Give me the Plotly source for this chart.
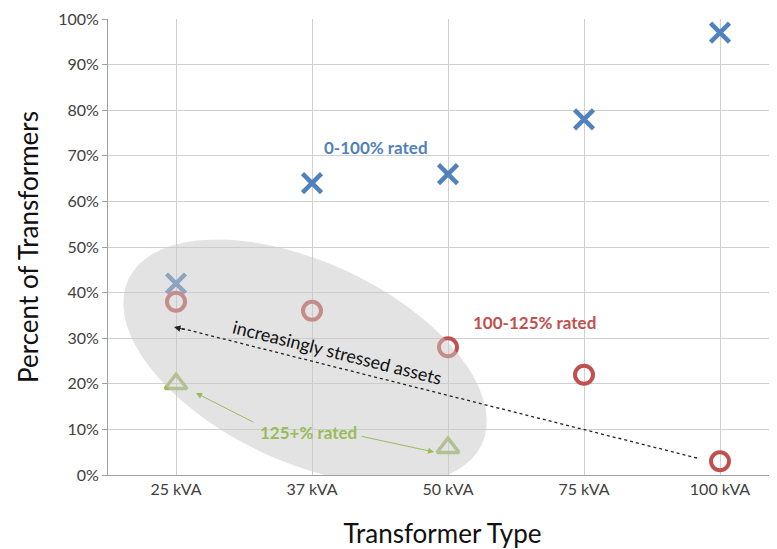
import math
import plotly.graph_objects as go

categories = ["25 kVA", "37 kVA", "50 kVA", "75 kVA", "100 kVA"]
rated_0_100 = [42, 64, 66, 78, 97]
rated_100_125 = [38, 36, 28, 22, 3]
rated_125_cats = ["25 kVA", "50 kVA"]
rated_125 = [20, 6]
y_ticks = [0, 10, 20, 30, 40, 50, 60, 70, 80, 90, 100]

BLUE = "#4f81bd"
RED = "#c0504d"
GREEN = "#9bbb59"
FONT = "Lato"

xi = {c: i for i, c in enumerate(categories)}

fig = go.Figure()
fig.add_trace(go.Scatter(
    x=[xi[c] for c in categories], y=rated_0_100, mode="markers",
    marker=dict(symbol="x-thin-open", size=19, color=BLUE, line=dict(color=BLUE, width=4.5)),
    name="0-100% rated"))
fig.add_trace(go.Scatter(
    x=[xi[c] for c in categories], y=rated_100_125, mode="markers",
    marker=dict(symbol="circle-open", size=18, color=RED, line=dict(color=RED, width=4)),
    name="100-125% rated"))
fig.add_trace(go.Scatter(
    x=[xi[c] for c in rated_125_cats], y=rated_125, mode="markers",
    marker=dict(symbol="triangle-up-open", size=19, color=GREEN, line=dict(color=GREEN, width=3.5)),
    name="125+% rated"))

# page pixel -> data helpers (index 0 at 176px, 136px per category; 0% at 475px, 4.56px per %)
def dx(px):
    return (px - 176) / 136.0

def dy(py):
    return (475 - py) / 4.56

# highlight ellipse (rotated), built in pixel space
cx, cy, a, b, th = 305, 362, 195, 100, math.radians(25)
pts = []
for k in range(73):
    t = 2 * math.pi * k / 72
    px = cx + a * math.cos(t) * math.cos(th) - b * math.sin(t) * math.sin(th)
    py = cy + a * math.cos(t) * math.sin(th) + b * math.sin(t) * math.cos(th)
    pts.append((dx(px), dy(py)))
path = "M " + " L ".join(f"{x:.4f},{y:.4f}" for x, y in pts) + " Z"
fig.add_shape(type="path", path=path, xref="x", yref="y", layer="above",
              fillcolor="rgba(200,200,200,0.5)", line=dict(width=0))

# dotted arrow line
fig.add_shape(type="line", x0=dx(697), y0=dy(458), x1=dx(176), y1=dy(327),
              xref="x", yref="y", layer="above",
              line=dict(color="#222222", width=1.3, dash="dot"))
fig.add_annotation(x=dx(174), y=dy(327), ax=dx(186), ay=dy(330), axref="x", ayref="y",
                   xref="x", yref="y", text="", showarrow=True, arrowhead=2,
                   arrowsize=1.3, arrowwidth=1, arrowcolor="#222222")

fig.add_annotation(x=dx(337), y=dy(352), xref="x", yref="y", text="increasingly stressed assets",
                   showarrow=False, textangle=14, font=dict(family=FONT, size=18, color="#111111"))

fig.add_annotation(x=dx(376), y=dy(147), xref="x", yref="y", text="<b>0-100% rated</b>",
                   showarrow=False, font=dict(family=FONT, size=17, color=BLUE))
fig.add_annotation(x=dx(534), y=dy(322), xref="x", yref="y", text="<b>100-125% rated</b>",
                   showarrow=False, font=dict(family=FONT, size=17, color=RED))
fig.add_annotation(x=dx(308), y=dy(432), xref="x", yref="y", text="<b>125+% rated</b>",
                   showarrow=False, font=dict(family=FONT, size=17, color=GREEN))

# green arrows
fig.add_annotation(x=dx(196), y=dy(393), ax=dx(255), ay=dy(423), axref="x", ayref="y",
                   xref="x", yref="y", text="", showarrow=True, arrowhead=2,
                   arrowsize=1.2, arrowwidth=1, arrowcolor=GREEN)
fig.add_annotation(x=dx(434), y=dy(452), ax=dx(360), ay=dy(436), axref="x", ayref="y",
                   xref="x", yref="y", text="", showarrow=True, arrowhead=2,
                   arrowsize=1.2, arrowwidth=1, arrowcolor=GREEN)

# page has an 8px body margin, so the figure is sized/offset to land on the reference pixels
fig.update_layout(
    width=769, height=541,
    margin=dict(l=100, r=0, t=11, b=74),
    paper_bgcolor="white", plot_bgcolor="white",
    showlegend=False,
    font=dict(family=FONT, color="#404040"),
)
fig.update_xaxes(
    range=[-0.5, 669 / 136.0 - 0.5],
    tickvals=list(range(len(categories))), ticktext=categories,
    tickfont=dict(size=16, color="#404040"),
    showgrid=True, gridcolor="#d0d0d0", gridwidth=1,
    showline=True, linecolor="#a0a0a0", linewidth=1,
    zeroline=False, ticks="", ticklen=0,
    title=dict(text="Transformer Type", font=dict(size=26, color="#111111"), standoff=29),
)
fig.update_yaxes(
    range=[0, 100], tickvals=y_ticks, ticktext=[f"{v}%" for v in y_ticks],
    tickfont=dict(size=16, color="#404040"),
    showgrid=True, gridcolor="#d0d0d0", gridwidth=1,
    showline=True, linecolor="#a0a0a0", linewidth=1,
    zeroline=False, ticks="outside", ticklen=5, tickcolor="#a0a0a0",
    title=dict(text="Percent of Transformers", font=dict(size=26, color="#111111"), standoff=12),
)

fig.write_html("out.html")
